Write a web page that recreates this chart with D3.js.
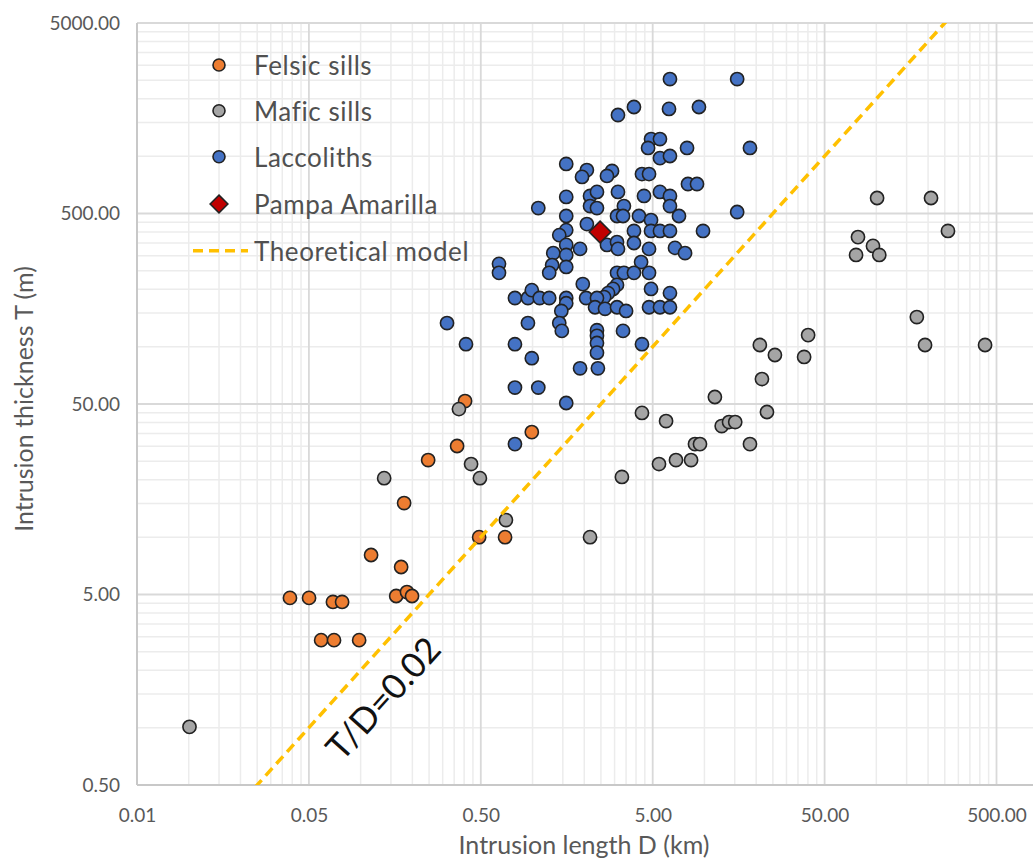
<!DOCTYPE html>
<html><head><meta charset="utf-8">
<script src="https://cdn.jsdelivr.net/npm/d3@7/dist/d3.min.js"></script>
<style>body{margin:0;background:#fff}svg{display:block}</style>
</head><body>
<svg id="chart" width="1033" height="860"></svg>
<script>
// ---- data (D in km, T in m) ----
const felsicSills = [
  [0.405,51.8],[0.99,35.6],[0.364,30.1],[0.247,25.4],[0.179,15.1],[0.489,10.0],[0.692,10.0],
  [0.115,8.06],[0.172,6.97],[0.0388,4.80],[0.0501,4.80],[0.069,4.57],[0.078,4.57],
  [0.161,4.91],[0.186,5.15],[0.199,4.91],[0.0589,2.88],[0.070,2.88],[0.098,2.88]
];
const maficSills = [
  [0.0101,1.01],[0.137,20.4],[0.373,47.0],[0.439,24.2],[0.494,20.4],[0.70,12.3],[2.16,10.0],
  [3.31,20.7],[4.33,44.9],[5.98,40.7],[5.44,24.2],[6.83,25.4],[8.36,25.4],[8.81,30.8],[9.42,30.8],
  [11.5,54.4],[12.6,38.3],[13.9,40.2],[15.1,40.2],[18.4,30.8],[21.0,102],[21.6,67.6],[23.1,45.4],
  [25.7,90.4],[38.0,88.3],[40.1,115],[76.2,303],[78.2,376],[95.6,338],[101,603],[104,303],
  [172,143],[192,102],[208,603],[261,405],[429,102]
];
const laccoliths = [
  [6.30,2540],[15.5,2540],[3.89,1811],[3.14,1644],[6.22,1770],[9.29,1811],[4.89,1230],[5.51,1230],
  [4.70,1104],[5.51,977],[6.30,1002],[7.92,1104],[18.4,1104],[1.57,910],[2.07,845],[1.94,778],
  [2.90,836],[2.71,787],[4.33,805],[4.76,805],[8.02,714],[9.05,714],[1.57,611],[1.08,534],
  [2.16,618],[2.37,649],[3.14,649],[4.45,618],[5.51,649],[6.30,618],[2.16,547],[2.37,534],
  [3.40,547],[6.30,547],[7.11,485],[15.5,509],[1.57,485],[2.07,440],[3.10,485],[3.36,485],
  [4.16,485],[4.89,462],[1.57,409],[1.43,385],[3.89,405],[4.89,405],[5.51,405],[6.30,405],
  [9.81,405],[2.71,342],[3.10,354],[3.14,326],[3.89,350],[4.76,326],[6.74,330],[7.71,310],
  [1.57,342],[1.89,326],[1.32,310],[1.57,303],[1.57,262],[1.30,268],[1.25,244],[0.638,272],
  [0.638,244],[4.28,278],[3.10,244],[3.40,244],[3.89,244],[4.76,244],[1.96,213],[3.10,211],
  [2.94,201],[2.75,191],[2.61,182],[4.89,201],[6.30,191],[0.79,180],[0.94,180],[0.99,198],
  [1.10,180],[1.25,180],[1.57,180],[1.57,169],[2.05,180],[2.37,180],[2.31,161],[2.64,158],
  [3.10,161],[3.50,154],[4.76,161],[5.51,161],[6.30,161],[1.47,154],[0.94,133],[1.43,133],
  [1.48,121],[2.37,122],[2.37,114],[2.37,104.5],[2.37,93],[3.36,121],[0.79,103],[4.33,103],
  [0.99,87],[1.89,77],[2.40,77],[0.318,133],[0.41,103],[0.79,61],[1.08,61],[1.57,50.6],[0.79,30.8]
];
const pampaAmarilla = [[2.47,400]];
const modelRatio = 0.02;             // T/D (T in m, D in km)
const modelD = [0.005, 5000];        // model line extent in D (km)
const xTickValues = [0.005,0.05,0.5,5,50,500];
const xTickLabels = ["0.01","0.05","0.50","5.00","50.00","500.00"];
const yTickValues = [0.5,5,50,500,5000];
const yTickLabels = ["0.50","5.00","50.00","500.00","5000.00"];
const legendLabels = ["Felsic sills","Mafic sills","Laccoliths","Pampa Amarilla","Theoretical model"];
const xTitle = "Intrusion length D (km)";
const yTitle = "Intrusion thickness T (m)";
const modelLabel = "T/D=0.02";

// ---- layout ----
const FONT = "Lato, 'Liberation Sans', sans-serif";
const L = 137, B = 785, T = 23, RW = 1033;
const x = d3.scaleLog().domain([0.005, 5000]).range([L, L + 6*171.9]);
const y = d3.scaleLog().domain([0.5, 5000]).range([B, T]);
const svg = d3.select("#chart");
svg.append("rect").attr("width",1033).attr("height",860).attr("fill","#fff");

const plot = svg.append("g");
svg.append("clipPath").attr("id","pc").append("rect")
  .attr("x",L).attr("y",T).attr("width",RW-L).attr("height",B-T);

// minor grid values
const minor = (majors) => majors.flatMap(m => d3.range(2,10).map(k => m*k));
const xMinor = minor([0.005,0.05,0.5,5,50,500]);
const yMinor = minor([0.5,5,50,500]);

const grid = plot.append("g");
grid.selectAll(".xm").data(xMinor).join("line")
  .attr("x1",d=>x(d)).attr("x2",d=>x(d)).attr("y1",T).attr("y2",B)
  .attr("stroke","#ececec").attr("stroke-width",1.5);
grid.selectAll(".ym").data(yMinor).join("line")
  .attr("y1",d=>y(d)).attr("y2",d=>y(d)).attr("x1",L).attr("x2",RW)
  .attr("stroke","#ececec").attr("stroke-width",1.5);
grid.selectAll(".xM").data(xTickValues).join("line")
  .attr("x1",d=>x(d)).attr("x2",d=>x(d)).attr("y1",T).attr("y2",B)
  .attr("stroke","#d9d9d9").attr("stroke-width",1.8);
grid.selectAll(".yM").data(yTickValues).join("line")
  .attr("y1",d=>y(d)).attr("y2",d=>y(d)).attr("x1",L).attr("x2",RW)
  .attr("stroke","#d9d9d9").attr("stroke-width",1.8);

// axes
const xAxis = d3.axisBottom(x).tickValues(xTickValues)
  .tickFormat((d,i)=>xTickLabels[i]).tickSize(0).tickPadding(24);
const gx = svg.append("g").attr("transform",`translate(0,${B})`).call(xAxis);
gx.select(".domain").remove();
gx.selectAll("text").attr("font-family",FONT).attr("font-size",19).attr("fill","#595959");
svg.append("line").attr("x1",L).attr("x2",RW).attr("y1",B).attr("y2",B)
  .attr("stroke","#c8c8c8").attr("stroke-width",2);

const yAxis = d3.axisLeft(y).tickValues(yTickValues)
  .tickFormat((d,i)=>yTickLabels[i]).tickSize(0).tickPadding(17);
const gy = svg.append("g").attr("transform",`translate(${L},0)`).call(yAxis);
gy.select(".domain").remove();
gy.selectAll("text").attr("font-family",FONT).attr("font-size",19).attr("fill","#595959");
svg.append("line").attr("x1",L).attr("x2",L).attr("y1",T).attr("y2",B)
  .attr("stroke","#c8c8c8").attr("stroke-width",2);

// titles
svg.append("text").attr("x",584).attr("y",854).attr("text-anchor","middle")
  .attr("font-family",FONT).attr("font-size",25).attr("fill","#595959").text(xTitle);
svg.append("text").attr("transform","translate(33,399) rotate(-90)").attr("text-anchor","middle")
  .attr("font-family",FONT).attr("font-size",25).attr("fill","#595959").text(yTitle);

// markers
const marks = svg.append("g").attr("clip-path","url(#pc)");
const drawCircles = (data, fill) => marks.append("g").selectAll("circle").data(data).join("circle")
  .attr("cx",d=>x(d[0])).attr("cy",d=>y(d[1])).attr("r",6.6)
  .attr("fill",fill).attr("stroke","#222").attr("stroke-width",1.6);
drawCircles(felsicSills,"#ED7D31");
drawCircles(maficSills,"#A5A5A5");
drawCircles(laccoliths,"#4472C4");
const diamond = d3.symbol().type(d3.symbolDiamond2).size(300);
marks.append("g").selectAll("path").data(pampaAmarilla).join("path")
  .attr("transform",d=>`translate(${x(d[0])},${y(d[1])})`).attr("d",diamond)
  .attr("fill","#C00000").attr("stroke","#222").attr("stroke-width",1.6);

// theoretical model line
const line = d3.line().x(d=>x(d)).y(d=>y(d*modelRatio*1000));
marks.append("path").datum(modelD).attr("d",line).attr("fill","none")
  .attr("stroke","#FFC000").attr("stroke-width",3.5).attr("stroke-dasharray","10,6");

// model label
const p1 = [x(0.025), y(0.5)], p2 = [x(250), y(5000)];
const ang = Math.atan2(p2[1]-p1[1], p2[0]-p1[0]);
const D0 = 0.095, off = 34;
const lx = x(D0) - Math.sin(ang)*off, ly = y(D0*modelRatio*1000) + Math.cos(ang)*off;
svg.append("text").attr("transform",`translate(${lx},${ly}) rotate(${ang*180/Math.PI})`)
  .attr("text-anchor","middle").attr("dominant-baseline","central")
  .attr("font-family",FONT).attr("font-size",35).attr("fill","#111").text(modelLabel);

// legend
const legY = [65,110.7,156.7,204,250.7];
const leg = svg.append("g");
const legFill = ["#ED7D31","#A5A5A5","#4472C4"];
legFill.forEach((c,i)=>leg.append("circle").attr("cx",219).attr("cy",legY[i]).attr("r",6)
  .attr("fill",c).attr("stroke","#222").attr("stroke-width",1.6));
leg.append("path").attr("transform",`translate(219,${legY[3]})`)
  .attr("d",d3.symbol().type(d3.symbolDiamond2).size(200))
  .attr("fill","#C00000").attr("stroke","#222").attr("stroke-width",1.6);
leg.append("line").attr("x1",193).attr("x2",248).attr("y1",legY[4]).attr("y2",legY[4])
  .attr("stroke","#FFC000").attr("stroke-width",3.5).attr("stroke-dasharray","10,6");
legendLabels.forEach((t,i)=>leg.append("text").attr("x",254).attr("y",legY[i])
  .attr("dominant-baseline","central").attr("font-family",FONT).attr("font-size",26)
  .attr("letter-spacing",0.6).attr("fill","#505050").text(t));
</script>
</body></html>
